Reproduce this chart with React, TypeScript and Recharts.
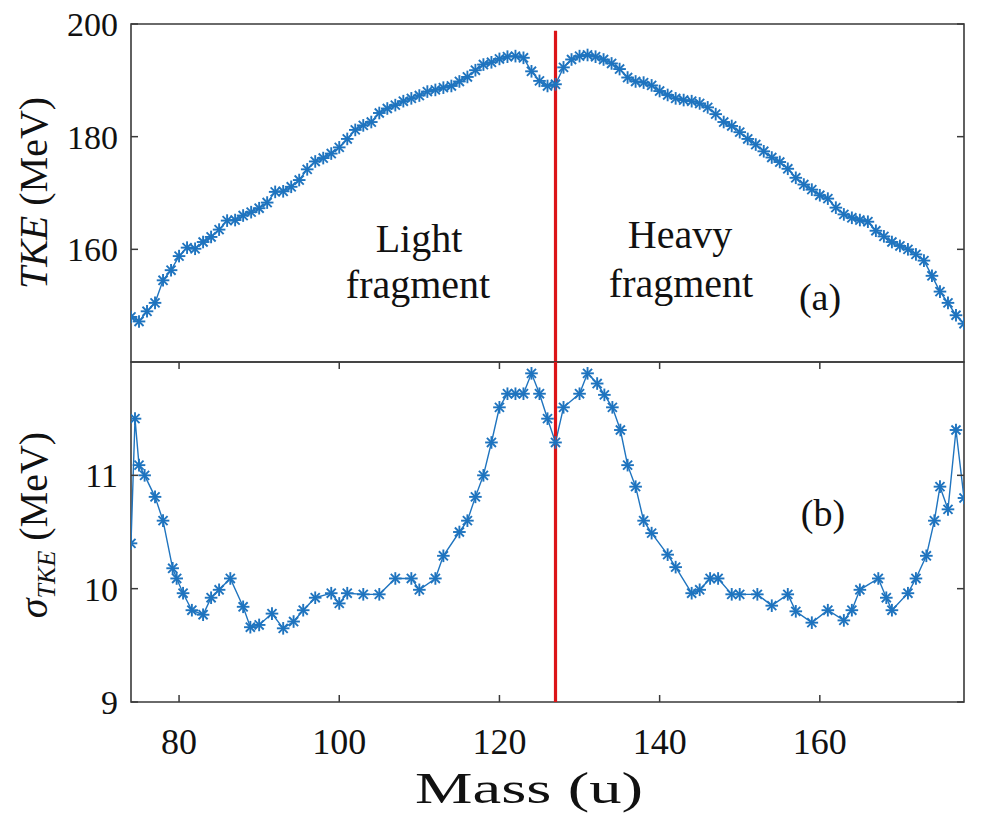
import React from 'react';
import { LineChart, Line, XAxis, YAxis, ReferenceLine, ReferenceArea } from 'recharts';

// ---------- data ----------
const massTop = [
  74, 75, 76, 77, 78, 79, 80, 81, 82, 83, 84, 85, 86, 87, 88, 89, 90, 91, 92, 93,
  94, 95, 96, 97, 98, 99, 100, 101, 102, 103, 104, 105, 106, 107, 108, 109, 110, 111, 112, 113,
  114, 115, 116, 117, 118, 119, 120, 121, 122, 123, 124, 125, 126, 127, 128, 129, 130, 131, 132, 133,
  134, 135, 136, 137, 138, 139, 140, 141, 142, 143, 144, 145, 146, 147, 148, 149, 150, 151, 152, 153,
  154, 155, 156, 157, 158, 159, 160, 161, 162, 163, 164, 165, 166, 167, 168, 169, 170, 171, 172, 173,
  174, 175, 176, 177, 178,
];
const tkeValues = [
  148, 147.2, 149, 150.5, 154.5, 156.3, 158.8, 160.3, 160.1, 161.3, 162.2, 163.5, 165.1, 165.2, 166, 166.6, 167.3, 168.3, 170.2, 170.3,
  171.1, 172.3, 174.2, 175.6, 176.2, 177, 178.1, 179.6, 181.2, 182, 182.6, 184.2, 185, 185.6, 186.3, 186.8, 187.3, 188, 188.3, 188.7,
  189, 189.8, 190.6, 191.8, 192.8, 193.2, 193.8, 194.2, 194.3, 194, 191.6, 189.9, 189, 189.3, 192.3, 193.7, 194.3, 194.5, 194.2, 193.7,
  193, 192, 190.5, 189.8, 189.6, 189.1, 188.1, 187.4, 186.8, 186.5, 186.3, 185.9, 185.2, 184, 182.6, 181.9, 180.8, 179.6, 178.6, 177.4,
  176.3, 175.5, 174.3, 172.7, 171.5, 170.6, 169.6, 169, 167.4, 166.2, 165.6, 165.2, 164.9, 163.3, 162.3, 161.3, 160.6, 160, 159.1, 158,
  155.3, 152.5, 150.5, 148.3, 146.8,
];
const massSigma = [
  74, 74.5, 75, 75.7, 77, 78, 79.2, 79.7, 80.5, 81.6, 83, 84, 85, 86.4, 88, 88.9, 90, 91.6, 93, 94.3,
  95.5, 97, 99, 100, 101, 103, 105, 107, 109, 110, 112, 113, 115, 116, 117, 118, 119, 120, 121, 122,
  123, 124, 125, 126, 127, 128, 130, 131, 132.2, 133.1, 134.1, 135.1, 136, 137, 138, 139, 141, 142, 144, 145,
  146.3, 147.3, 149, 150, 152.2, 154, 156, 157, 159, 161, 163, 164, 165, 167.3, 168.3, 169, 171, 172, 173.3, 174.3,
  175, 176, 177, 178,
];
const sigmaValues = [
  10.4, 11.5, 11.09, 11.0, 10.81, 10.6, 10.18, 10.09, 9.96, 9.81, 9.77, 9.92, 9.99, 10.09, 9.84, 9.66, 9.68, 9.78, 9.65, 9.71,
  9.81, 9.92, 9.96, 9.87, 9.96, 9.95, 9.95, 10.09, 10.09, 9.99, 10.09, 10.29, 10.5, 10.6, 10.81, 11.0, 11.29, 11.6, 11.72, 11.72,
  11.72, 11.9, 11.72, 11.5, 11.29, 11.6, 11.72, 11.9, 11.81, 11.71, 11.6, 11.4, 11.09, 10.9, 10.6, 10.49, 10.3, 10.19, 9.96, 9.99,
  10.09, 10.09, 9.95, 9.95, 9.95, 9.85, 9.95, 9.8, 9.7, 9.81, 9.72, 9.81, 9.99, 10.09, 9.92, 9.81, 9.96, 10.09, 10.29, 10.6,
  10.9, 10.7, 11.4, 10.8,
];
const xTicks = [80, 100, 120, 140, 160];
const tkeTicks = [160, 180, 200];
const sigmaTicks = [9, 10, 11];
const massDomain = [74, 178];
const tkeDomain = [140, 200];
const sigmaDomain = [9, 12];
const splitMass = 127;

const tkeData = massTop.map((m, i) => ({ m, v: tkeValues[i] }));
const sigmaData = massSigma.map((m, i) => ({ m, v: sigmaValues[i] }));

// ---------- style ----------
const BLUE = '#1f74bf';
const RED = '#dc1418';
const AXIS = '#3a3a3a';
const TEXT = '#111';
const SERIF = 'Liberation Serif';
const serifStyle = { fontFamily: SERIF };
const PLOT_LEFT = 131;
const PLOT_RIGHT = 964;
const TICK_LEN = 7;

const Star = (props: any) => {
  const { cx, cy, index } = props;
  if (cx == null || cy == null) return <g key={`e${index}`} />;
  const r = 6.3;
  const d = r * 0.72;
  return (
    <g key={`s${index}`} stroke={BLUE} strokeWidth={1.9}>
      <line x1={cx - r} y1={cy} x2={cx + r} y2={cy} />
      <line x1={cx} y1={cy - r} x2={cx} y2={cy + r} />
      <line x1={cx - d} y1={cy - d} x2={cx + d} y2={cy + d} />
      <line x1={cx - d} y1={cy + d} x2={cx + d} y2={cy - d} />
    </g>
  );
};

const makeXTick = (plotTop: number, plotBottom: number, labelY: number | null) => (props: any) => {
  const { x, payload } = props;
  return (
    <g>
      <line x1={x} x2={x} y1={plotBottom} y2={plotBottom - TICK_LEN} stroke={AXIS} strokeWidth={1.5} />
      <line x1={x} x2={x} y1={plotTop} y2={plotTop + TICK_LEN} stroke={AXIS} strokeWidth={1.5} />
      {labelY != null && (
        <text x={x} y={labelY} textAnchor="middle" style={serifStyle} fontSize={36} fill={TEXT}>
          {payload.value}
        </text>
      )}
    </g>
  );
};

const YTick = (props: any) => {
  const { y, payload } = props;
  return (
    <g>
      <line x1={PLOT_LEFT} x2={PLOT_LEFT + TICK_LEN} y1={y} y2={y} stroke={AXIS} strokeWidth={1.5} />
      <line x1={PLOT_RIGHT} x2={PLOT_RIGHT - TICK_LEN} y1={y} y2={y} stroke={AXIS} strokeWidth={1.5} />
      <text x={PLOT_LEFT - 13} y={y} dy="0.35em" textAnchor="end" style={serifStyle} fontSize={34} fill={TEXT}>
        {payload.value}
      </text>
    </g>
  );
};

export default function App() {
  return (
    <div style={{ position: 'absolute', left: 0, top: 0, width: 990, height: 814, background: '#fff', overflow: 'hidden' }}>
      <div style={{ position: 'absolute', left: 0, top: 0 }}>
        <LineChart width={990} height={370} data={tkeData} margin={{ top: 24, right: 26, bottom: 8, left: 0 }}>
          <XAxis
            type="number"
            dataKey="m"
            domain={massDomain}
            ticks={xTicks}
            interval={0}
            height={0}
            axisLine={false}
            tickLine={false}
            tick={makeXTick(24, 362, null)}
            allowDataOverflow
          />
          <YAxis
            type="number"
            domain={tkeDomain}
            ticks={tkeTicks}
            interval={0}
            width={131}
            axisLine={false}
            tickLine={false}
            tick={<YTick />}
            allowDataOverflow
          />
          <ReferenceArea x1={74} x2={178} y1={140} y2={200} fill="none" stroke={AXIS} strokeWidth={1.6} ifOverflow="visible" />
          <Line
            type="linear"
            dataKey="v"
            stroke={BLUE}
            strokeWidth={1.4}
            dot={Star}
            activeDot={false}
            isAnimationActive={false}
          />
          <ReferenceLine
            segment={[{ x: splitMass, y: 198.8 }, { x: splitMass, y: 140 }]}
            stroke={RED}
            strokeWidth={3.2}
            ifOverflow="visible"
          />
        </LineChart>
      </div>
      <div style={{ position: 'absolute', left: 0, top: 340 }}>
        <LineChart width={990} height={474} data={sigmaData} margin={{ top: 22, right: 26, bottom: 52, left: 0 }}>
          <XAxis
            type="number"
            dataKey="m"
            domain={massDomain}
            ticks={xTicks}
            interval={0}
            height={60}
            axisLine={false}
            tickLine={false}
            tick={makeXTick(22, 362, 414)}
            allowDataOverflow
          />
          <YAxis
            type="number"
            domain={sigmaDomain}
            ticks={sigmaTicks}
            interval={0}
            width={131}
            axisLine={false}
            tickLine={false}
            tick={<YTick />}
            allowDataOverflow
          />
          <ReferenceArea x1={74} x2={178} y1={9} y2={12} fill="none" stroke={AXIS} strokeWidth={1.6} ifOverflow="visible" />
          <Line
            type="linear"
            dataKey="v"
            stroke={BLUE}
            strokeWidth={1.4}
            dot={Star}
            activeDot={false}
            isAnimationActive={false}
          />
          <ReferenceLine x={splitMass} stroke={RED} strokeWidth={3.2} ifOverflow="visible" />
        </LineChart>
      </div>
      <svg width={990} height={814} style={{ position: 'absolute', left: 0, top: 0, pointerEvents: 'none' }}>
        <g style={serifStyle} fill={TEXT}>
          <text transform="rotate(-90 47 193)" x={47} y={193} textAnchor="middle" fontSize={40} style={serifStyle}>
            <tspan fontStyle="italic">TKE</tspan>
            <tspan> (MeV)</tspan>
          </text>
          <text transform="rotate(-90 47 525)" x={47} y={525} textAnchor="middle" fontSize={40} style={serifStyle}>
            <tspan fontStyle="italic">σ</tspan>
            <tspan fontStyle="italic" fontSize={26} dy={8}>TKE</tspan>
            <tspan dy={-8}> (MeV)</tspan>
          </text>
          <text x={419} y={252} textAnchor="middle" fontSize={40} style={serifStyle}>Light</text>
          <text x={418} y={298} textAnchor="middle" fontSize={40} style={serifStyle}>fragment</text>
          <text x={680} y={248} textAnchor="middle" fontSize={40} style={serifStyle}>Heavy</text>
          <text x={681} y={297} textAnchor="middle" fontSize={40} style={serifStyle}>fragment</text>
          <text x={820} y={310} textAnchor="middle" fontSize={38} style={serifStyle}>(a)</text>
          <text x={823} y={526} textAnchor="middle" fontSize={38} style={serifStyle}>(b)</text>
          <text
            x={529}
            y={803}
            textAnchor="middle"
            fontSize={44}
            textLength={228}
            lengthAdjust="spacingAndGlyphs"
            style={serifStyle}
          >
            Mass (u)
          </text>
        </g>
      </svg>
    </div>
  );
}
